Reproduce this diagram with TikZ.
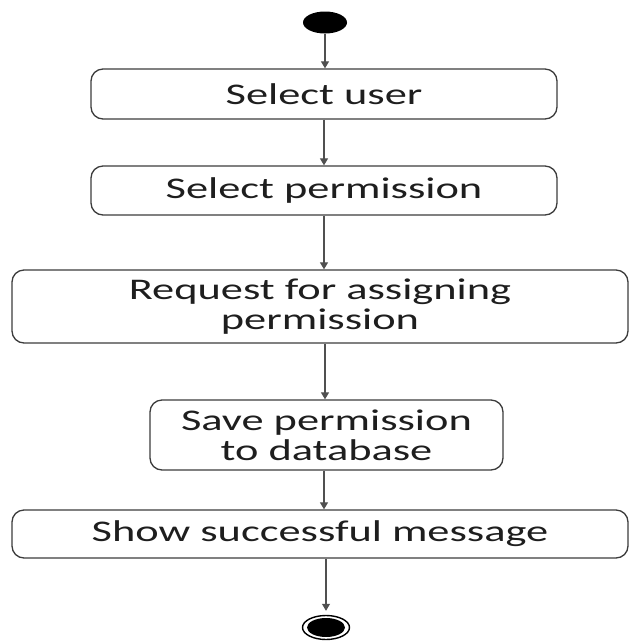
\documentclass[tikz,border=0pt]{standalone}
\usepackage{fontspec}
\setmainfont[FakeStretch=1.48]{Carlito}
\usetikzlibrary{arrows.meta,shapes.geometric}
\definecolor{edge}{HTML}{3C3C3C}
\definecolor{txt}{HTML}{1E1E1E}
\tikzset{
  act/.style={draw=edge, line width=1.3pt, rounded corners=12pt, inner sep=0pt,
    align=center, text=txt, font=\fontsize{30}{30}\selectfont},
  arr/.style={draw=edge!90!white, line width=1.1pt, -{Triangle[length=7pt,width=8pt]}},
  dot/.style={ellipse, fill=black, inner sep=0pt}
}
\begin{document}
\begin{tikzpicture}[x=1pt,y=-1pt]
\useasboundingbox (0,0) rectangle (629,641);
\node[dot, minimum width=44pt, minimum height=22pt] (s) at (325,22.5) {};
\node[act, minimum width=466pt, minimum height=50pt] (b1) at (324,94) {Select user};
\node[act, minimum width=466pt, minimum height=49pt] (b2) at (324,190.5) {Select permission};
\node[act, minimum width=616pt, minimum height=73pt] (b3) at (320,306.5) {Request for assigning\\permission};
\node[act, minimum width=353pt, minimum height=70pt] (b4) at (326.5,435) {Save permission\\to database};
\node[act, minimum width=616pt, minimum height=48pt] (b5) at (320,534) {Show successful message};
\node[ellipse, draw=black, line width=1.4pt, fill=white, minimum width=47pt, minimum height=24pt, inner sep=0pt] (e) at (326,627.5) {};
\node[dot, minimum width=38pt, minimum height=19pt] (ei) at (e.center) {};
\draw[arr] (s.south) -- (s.south |- b1.north);
\draw[arr] (b1.south) -- (b1.south |- b2.north);
\draw[arr] (b2.south) -- (b2.south |- b3.north);
\draw[arr] (b3.south -| b1.south) ++(1,0) coordinate (c3) -- (c3 |- b4.north);
\draw[arr] (b4.south -| b1.south) ++(0,0) coordinate (c4) -- (c4 |- b5.north);
\draw[arr, shorten >=4pt] (b5.south -| e.north) -- (e.north);
\end{tikzpicture}
\end{document}
